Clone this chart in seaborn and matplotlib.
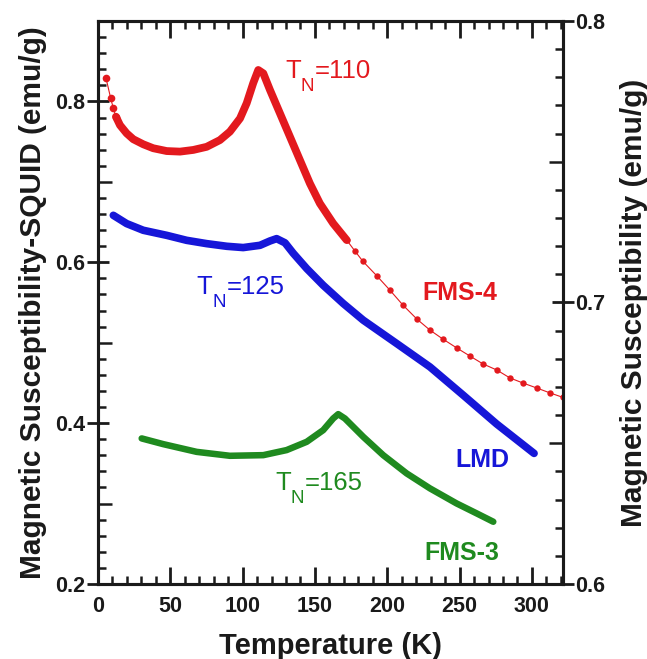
import matplotlib
matplotlib.use("Agg")
import matplotlib.pyplot as plt
import seaborn as sns
from matplotlib.ticker import MultipleLocator, FixedLocator

# ---------------- data ----------------
# FMS-4 (right axis): sparse low-T dots, dense measured part, sparse high-T dots
fms4_T_low = [5.5, 8.8, 10.6, 12.4]
fms4_chi_low = [0.7798, 0.7725, 0.7690, 0.7660]
fms4_T = [12.4, 15.2, 19.8, 24.4, 31.3, 38.2, 47.5, 56.7, 65.9, 75.1, 84.3, 91.2,
          98.2, 102.8, 107.3, 110.8, 114.3, 118.9, 125.8, 132.7, 139.6, 146.5,
          153.4, 162.6, 171.9]
fms4_chi = [0.7660, 0.7630, 0.7601, 0.7580, 0.7562, 0.7548, 0.7538, 0.7536, 0.7542,
            0.7553, 0.7577, 0.7607, 0.7654, 0.7708, 0.7779, 0.7826, 0.7814, 0.7755,
            0.7672, 0.7589, 0.7506, 0.7423, 0.7352, 0.7281, 0.7222]
fms4_T_high = [171.9, 177.6, 183.2, 192.9, 201.8, 210.8, 220.5, 229.5, 238.5, 248.2,
               257.1, 266.1, 275.8, 284.8, 293.8, 303.5, 312.4, 321.4]
fms4_chi_high = [0.7222, 0.7183, 0.7146, 0.7094, 0.7044, 0.6991, 0.6941, 0.6902,
                 0.6870, 0.6838, 0.6810, 0.6782, 0.6760, 0.6732, 0.6714, 0.6696,
                 0.6679, 0.6663]

# LMD (left axis)
lmd_T = [10.6, 19.8, 31.3, 47.5, 61.3, 75.1, 89.0, 100.4, 112.0, 118.9, 123.5,
         129.3, 135.0, 144.3, 155.7, 169.6, 183.4, 206.5, 229.5, 252.5, 275.6, 301.5]
lmd_chi = [0.6584, 0.6481, 0.6398, 0.6335, 0.6273, 0.6232, 0.6199, 0.6183, 0.6211,
           0.6265, 0.6294, 0.6242, 0.6112, 0.5922, 0.5714, 0.5487, 0.5280, 0.4990,
           0.4699, 0.4348, 0.3990, 0.3624]

# FMS-3 (left axis)
fms3_T = [30.2, 45.1, 68.2, 91.2, 114.3, 130.4, 144.3, 155.7, 162.6, 166.1, 170.7,
          183.4, 197.2, 213.4, 229.5, 247.9, 261.8, 273.3]
fms3_chi = [0.3810, 0.3739, 0.3643, 0.3594, 0.3602, 0.3665, 0.3768, 0.3913, 0.4058,
            0.4112, 0.4058, 0.3830, 0.3602, 0.3375, 0.3189, 0.3002, 0.2878, 0.2774]

x_ticks = [0, 50, 100, 150, 200, 250, 300]
left_ticks = [0.2, 0.4, 0.6, 0.8]
right_ticks = [0.6, 0.7, 0.8]

RED = "#e3191e"
BLUE = "#1616d8"
GREEN = "#1f8a1f"
INK = "#1a1a1a"

# ---------------- style ----------------
sns.set_style("ticks")
plt.rcParams["font.family"] = ["Liberation Sans", "DejaVu Sans"]
plt.rcParams["font.weight"] = "bold"

W, H = 647, 659
fig = plt.figure(figsize=(W / 100, H / 100), dpi=100)
ax = fig.add_axes([98 / W, 1 - 584 / H, (563 - 98) / W, (584 - 21) / H])
ax2 = ax.twinx()

# ---------------- curves ----------------
sns.lineplot(x=lmd_T, y=lmd_chi, ax=ax, color=BLUE, lw=5.5, sort=False,
             estimator=None, solid_capstyle="round", solid_joinstyle="round")
sns.lineplot(x=fms3_T, y=fms3_chi, ax=ax, color=GREEN, lw=4.7, sort=False,
             estimator=None, solid_capstyle="round", solid_joinstyle="round")

sns.lineplot(x=fms4_T, y=fms4_chi, ax=ax2, color=RED, lw=5.6, sort=False,
             estimator=None, solid_capstyle="round", solid_joinstyle="round")
sns.lineplot(x=fms4_T_low, y=fms4_chi_low, ax=ax2, color=RED, lw=0.8, sort=False,
             estimator=None, marker="o", markersize=5.5, markeredgewidth=0)
sns.lineplot(x=fms4_T_high, y=fms4_chi_high, ax=ax2, color=RED, lw=0.8, sort=False,
             estimator=None, marker="o", markersize=4.6, markeredgewidth=0)

# ---------------- axes ----------------
ax.set_xlim(0, 321.5)
ax.set_ylim(0.2, 0.9)
ax2.set_ylim(0.6, 0.8)

ax.xaxis.set_major_locator(FixedLocator(x_ticks))
ax.xaxis.set_minor_locator(MultipleLocator(10))
ax.yaxis.set_major_locator(FixedLocator(left_ticks))
ax.yaxis.set_minor_locator(MultipleLocator(0.02))
ax2.yaxis.set_major_locator(FixedLocator(right_ticks))
ax2.yaxis.set_minor_locator(MultipleLocator(0.01))
ax.set_xticklabels([str(t) for t in x_ticks])
ax.set_yticklabels([f"{t:.1f}" for t in left_ticks])
ax2.set_yticklabels([f"{t:.1f}" for t in right_ticks])

ax.tick_params(axis="x", which="major", direction="in", length=12, width=2,
               top=True, bottom=True, labelsize=15.5, pad=8.5, colors=INK)
ax.tick_params(axis="x", which="minor", direction="in", length=6, width=1.8,
               top=True, bottom=True, colors=INK)
ax.tick_params(axis="y", which="major", direction="inout", length=16, width=2,
               left=True, right=False, labelsize=15.5, pad=1, colors=INK)
ax.tick_params(axis="y", which="minor", direction="in", length=6, width=1.8,
               left=True, right=False, colors=INK)
ax2.tick_params(axis="y", which="major", direction="inout", length=16, width=2,
                left=False, right=True, labelsize=15.5, pad=1, colors=INK)
ax2.tick_params(axis="y", which="minor", direction="in", length=6, width=1.8,
                left=False, right=True, colors=INK)

for a in (ax, ax2):
    for s in a.spines.values():
        s.set_linewidth(2.2)
        s.set_color(INK)

ax.set_xlabel("Temperature (K)", fontsize=21, fontweight="bold", labelpad=11,
              color=INK)
ax.set_ylabel("Magnetic Susceptibility-SQUID (emu/g)", fontsize=21.5,
              fontweight="bold", labelpad=6, color=INK)
ax2.set_ylabel("Magnetic Susceptibility (emu/g)", fontsize=21.5,
               fontweight="bold", labelpad=10, color=INK)


# ---------------- annotations ----------------
def tn_label(x, y, num, color):
    kw = dict(color=color, fontweight="normal", ha="left", va="baseline")
    ax.text(x, y, "T", fontsize=18.5, **kw)
    ax.annotate("N", xy=(x, y), xytext=(15.5, -13), textcoords="offset pixels",
                fontsize=13.5, **kw)
    ax.annotate("=" + num, xy=(x, y), xytext=(30, 0), textcoords="offset pixels",
                fontsize=18.5, **kw)


tn_label(129.3, 0.8286, "110", RED)
tn_label(68.2, 0.5611, "125", BLUE)
tn_label(122.3, 0.3168, "165", GREEN)

ax.text(224.6, 0.5528, "FMS-4", color=RED, fontsize=18, fontweight="bold",
        ha="left", va="baseline")
ax.text(246.8, 0.3453, "LMD", color=BLUE, fontsize=18, fontweight="bold",
        ha="left", va="baseline")
ax.text(226.0, 0.2298, "FMS-3", color=GREEN, fontsize=18, fontweight="bold",
        ha="left", va="baseline")


# medium-length ticks at the half-decades
def medium(axis, targets, length, line):
    locs = axis.get_minorticklocs()
    ticks = axis.get_minor_ticks(len(locs))
    for t, loc in zip(ticks, locs):
        if any(abs(loc - m) < 1e-6 for m in targets):
            getattr(t, line).set_markersize(length)


medium(ax.yaxis, [0.3, 0.5, 0.7], 10, "tick1line")
medium(ax2.yaxis, [0.65, 0.75], 10, "tick2line")

fig.savefig("out.png", dpi=100)
